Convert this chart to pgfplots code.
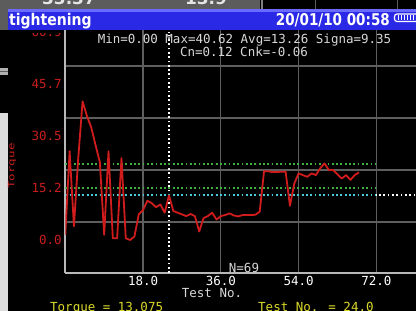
\documentclass[border=0pt]{standalone}
\usepackage{pgfplots}
\pgfplotsset{compat=1.18}
\usepackage{graphicx}
\usepackage{fontspec}
\newfontfamily\dmono{DejaVu Sans Mono}
\newfontfamily\dsans{DejaVu Sans}
\definecolor{gridgray}{HTML}{5E5E5E}
\definecolor{axisgray}{HTML}{B8B8B8}
\definecolor{curvered}{HTML}{D01C1C}
\definecolor{labred}{HTML}{C81E1E}
\definecolor{limgreen}{HTML}{3FB03F}
\definecolor{avgcyan}{HTML}{46CCD6}
\definecolor{yel}{HTML}{DADA2A}
\definecolor{barblue}{HTML}{2A2AE6}
\definecolor{barlight}{HTML}{6A6AFF}
\definecolor{stripgray}{HTML}{5C5C5C}
\definecolor{lightstrip}{HTML}{DCDCDC}
\definecolor{txtgray}{HTML}{D8D8D8}
\newcommand\devfont{\dmono\fontsize{12.5}{14}\selectfont}

\pgfplotstableread{
x y
0 1.5
1 26.0
2 4.0
3 24.0
4 40.62
5 36.3
6 33.0
7 27.8
8 22.8
9 1.5
10 26.0
11 0.5
12 0.5
13 24.0
14 0.5
15 0.0
16 1.0
17 7.5
18 8.8
19 11.5
20 10.8
21 9.6
22 10.4
23 8.0
24 13.075
25 8.5
26 8.0
27 7.5
28 7.0
29 7.6
30 7.0
31 2.5
32 6.4
33 7.0
34 8.0
35 6.0
36 7.0
37 7.3
38 7.8
39 7.2
40 6.9
41 7.3
42 7.3
43 7.3
44 7.4
45 8.3
46 20.1
47 20.1
48 19.9
49 19.9
50 20.0
51 20.0
52 10.0
53 16.5
54 19.5
55 19.0
56 18.5
57 19.5
58 19.0
59 21.0
60 22.4
61 20.5
62 20.5
63 19.2
64 18.0
65 19.0
66 17.6
67 19.0
68 19.8
}\torque

\begin{document}
\begin{tikzpicture}[x=1pt,y=1pt]
\useasboundingbox (0,0) rectangle (416,311);
\clip (0,0) rectangle (416,311);
\fill[black] (0,0) rectangle (416,311);
% left strip
\fill[lightstrip] (0,0) rectangle (8,198);
\fill[lightstrip!80!black] (0,236) rectangle (8,243);
\draw[stripgray, line width=1pt] (0,239.5) -- (8,239.5);

\begin{axis}[
  at={(65.3pt,71pt)}, anchor=origin,
  scale only axis, width=350.7pt, height=245pt,
  xmin=0, xmax=81.18, ymin=-9.66, ymax=62.07,
  axis x line=bottom, axis y line=left,
  axis line style={-, draw=axisgray, line width=1.6pt},
  every outer x axis line/.append style={-},
  every outer y axis line/.append style={-},
  xtick={18,36,54,72}, xticklabels={18.0,36.0,54.0,72.0},
  ytick={5.27,20.49,35.72,50.94}, yticklabels={},
  extra y ticks={0,15.225,30.45,45.675,60.9},
  extra y tick labels={0.0,15.2,30.5,45.7,60.9},
  extra y tick style={grid=none},
  xmajorgrids, ymajorgrids,
  major grid style={draw=gridgray, line width=1.3pt},
  major tick length=0pt,
  tick style={draw=none},
  xticklabel style={text=white, font=\devfont},
  yticklabel style={text=labred, font=\devfont},
]
\addplot[white, line width=1.7pt, dash pattern=on 1.7pt off 2.6pt] coordinates {(24,-9.66) (24,61)};
\addplot[white, line width=1.7pt, dash pattern=on 1.7pt off 2.6pt] coordinates {(0,13.075) (81.18,13.075)};
\addplot[avgcyan, line width=1.9pt, dash pattern=on 1.8pt off 2.5pt] coordinates {(0,13.26) (72,13.26)};
\addplot[limgreen, line width=1.9pt, dash pattern=on 1.8pt off 2.5pt] coordinates {(0,22.25) (72,22.25)};
\addplot[limgreen, line width=1.9pt, dash pattern=on 1.8pt off 2.5pt] coordinates {(0,15.31) (72,15.31)};
\addplot[curvered, line width=1.8pt, line join=round] table[x=x,y=y] {\torque};
\end{axis}

% partly hidden top label
\fill[black] (24,278) rectangle (63.5,281);
% top strip
\fill[stripgray] (0,301.5) rectangle (260,311);
\fill[stripgray] (0,281) rectangle (8,301.5);
\draw[gray, line width=1.5pt] (262,301.5) -- (262,311);
\draw[stripgray, line width=1pt] (315,301.5) -- (315,311);
\draw[stripgray, line width=1pt] (397,301.5) -- (397,311);
\node[anchor=base, text=white!90!black, font=\dsans\bfseries\fontsize{17}{20}\selectfont, inner sep=0pt] at (69,306.5) {33.37};
\node[anchor=base, text=white!90!black, font=\dsans\bfseries\fontsize{17}{20}\selectfont, inner sep=0pt] at (206,306.5) {13.9};
% title bar
\fill[barblue] (8,281) rectangle (416,301.5);
\fill[barlight] (8,298.5) rectangle (416,301.5);
\node[anchor=base west, inner sep=0pt, text=white, font=\dsans\bfseries\fontsize{14}{16}\selectfont] at (9,285.5) {\scalebox{1}[1.15]{tightening}};
\node[anchor=base east, inner sep=0pt, text=white, font=\dsans\bfseries\fontsize{13.5}{16}\selectfont] at (390,285.5) {\scalebox{1}[1.2]{20/01/10 00:58}};
\draw[white, line width=1.2pt, rounded corners=2.5pt] (394.5,289.5) rectangle (425,297);
\foreach \bx in {398,401,404,407,410,413} \draw[white, line width=1pt] (\bx,291) -- (\bx,295.5);

% stats text
\node[text=txtgray, font=\devfont, inner sep=0pt] at (244.5,270.5) {Min=0.00 Max=40.62 Avg=13.26 Signa=9.35};
\node[text=txtgray, font=\devfont, inner sep=0pt] at (244,259) {Cn=0.12 Cnk=-0.06};
% N
\node[text=txtgray, font=\devfont, inner sep=0pt] at (244,43.5) {N=69};
% x label
\node[text=txtgray, font=\devfont, inner sep=0pt] at (212,17.5) {Test No.};
% y label
\node[text=labred, font=\devfont, inner sep=0pt, rotate=90] at (12,145) {\scalebox{1}[0.7]{Torque}};
% bottom yellow
\node[anchor=base west, text=yel, font=\devfont, inner sep=0pt] at (50,-1) {Torque = 13.075};
\node[anchor=base west, text=yel, font=\devfont, inner sep=0pt] at (258,-1) {Test No. = 24.0};
\end{tikzpicture}
\end{document}
